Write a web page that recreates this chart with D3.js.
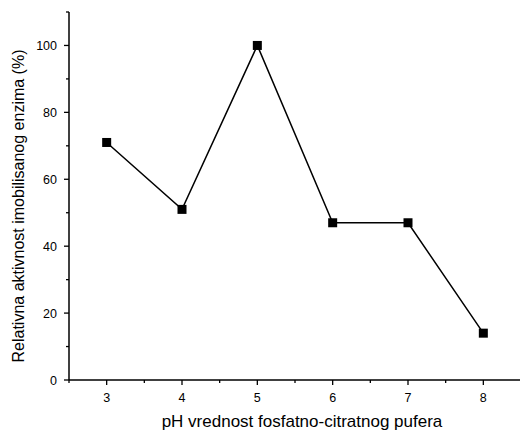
<!DOCTYPE html>
<html><head><meta charset="utf-8">
<script src="https://cdn.jsdelivr.net/npm/d3@7"></script>
<style>body{margin:0;background:#fff}svg{display:block}text{font-family:Arial,"Liberation Sans",sans-serif}</style>
</head><body><svg id="c" width="520" height="431"></svg>
<script>
const phValues = [3, 4, 5, 6, 7, 8];
const activity = [71, 51, 100, 47, 47, 14];
const xTicks = [3, 4, 5, 6, 7, 8];
const xMinorTicks = [2.5, 3.5, 4.5, 5.5, 6.5, 7.5];
const yTicks = [0, 20, 40, 60, 80, 100];
const yMinorTicks = [10, 30, 50, 70, 90, 110];
const xTitle = "pH vrednost fosfatno-citratnog pufera";
const yTitle = "Relativna aktivnost imobilisanog enzima (%)";

const svg = d3.select("#c");
const x = d3.scaleLinear().domain([2.5, 8.5]).range([69, 521]);
const y = d3.scaleLinear().domain([0, 110]).range([380, 12]);

const ax = svg.append("g").attr("transform", "translate(0,380)");
ax.append("line").attr("x1", x(2.5)).attr("x2", 520).attr("stroke", "#000").attr("stroke-width", 1.5);
ax.selectAll(".mj").data(xTicks).join("line").attr("x1", d => x(d)).attr("x2", d => x(d)).attr("y1", 0).attr("y2", 5).attr("stroke", "#000").attr("stroke-width", 1.3);
ax.selectAll(".mn").data(xMinorTicks).join("line").attr("x1", d => x(d)).attr("x2", d => x(d)).attr("y1", 0).attr("y2", 3).attr("stroke", "#000").attr("stroke-width", 1.3);
ax.selectAll("text").data(xTicks).join("text").attr("x", d => x(d)).attr("y", 22).attr("text-anchor", "middle").attr("font-size", 12.5).text(d => d);

const ay = svg.append("g").attr("transform", "translate(69,0)");
ay.append("line").attr("y1", y(0)).attr("y2", y(110)).attr("stroke", "#000").attr("stroke-width", 1.5);
ay.selectAll(".mj").data(yTicks).join("line").attr("y1", d => y(d)).attr("y2", d => y(d)).attr("x1", 0).attr("x2", -5).attr("stroke", "#000").attr("stroke-width", 1.3);
ay.selectAll(".mn").data(yMinorTicks).join("line").attr("y1", d => y(d)).attr("y2", d => y(d)).attr("x1", 0).attr("x2", -3).attr("stroke", "#000").attr("stroke-width", 1.3);
ay.selectAll("text").data(yTicks).join("text").attr("x", -12).attr("y", d => y(d) + 4.5).attr("text-anchor", "end").attr("font-size", 12.5).text(d => d);

const pts = phValues.map((p, i) => [p, activity[i]]);
svg.append("path").datum(pts).attr("fill", "none").attr("stroke", "#000").attr("stroke-width", 1.5)
  .attr("d", d3.line().x(d => x(d[0])).y(d => y(d[1])));
svg.selectAll(".m").data(pts).join("rect").attr("x", d => x(d[0]) - 4.5).attr("y", d => y(d[1]) - 4.5).attr("width", 9).attr("height", 9).attr("fill", "#000");

svg.append("text").attr("x", 302).attr("y", 427).attr("text-anchor", "middle").attr("font-size", 17).text(xTitle);
svg.append("text").attr("transform", "translate(24,206) rotate(-90)").attr("text-anchor", "middle").attr("font-size", 16).text(yTitle);
</script></body></html>
